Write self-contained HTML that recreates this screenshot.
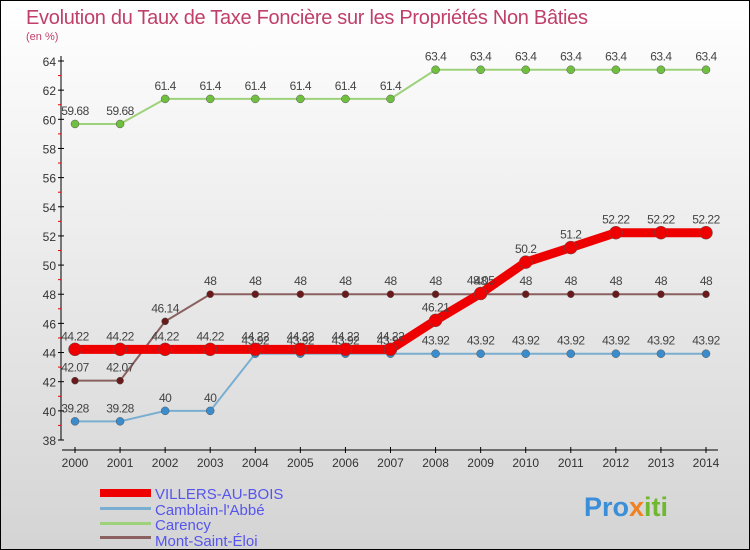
<!DOCTYPE html>
<html><head><meta charset="utf-8"><style>
body{margin:0}
svg{display:block;font-family:"Liberation Sans",sans-serif}
</style></head><body>
<svg id="c" width="750" height="550" viewBox="0 0 750 550" xmlns="http://www.w3.org/2000/svg">
<defs><linearGradient id="bg" x1="0" y1="0" x2="0" y2="1"><stop offset="0" stop-color="#ffffff"/><stop offset="1" stop-color="#d4d4d4"/></linearGradient></defs>
<rect x="0.5" y="0.5" width="749" height="549" fill="url(#bg)" stroke="#000"/>
<text x="26" y="24" font-size="20" fill="#c0406a" textLength="562">Evolution du Taux de Taxe Foncière sur les Propriétés Non Bâties</text>
<text x="26" y="40" font-size="11" fill="#c0406a">(en %)</text>
<g id="axes"></g><g id="series"></g>
<g>
<rect x="100" y="489" width="51" height="8" fill="#e00"/>
<text x="155" y="499" font-size="15" fill="#5555ee">VILLERS-AU-BOIS</text>
<rect x="100" y="507" width="51" height="3" fill="#7aaed0"/>
<text x="155" y="515" font-size="15" fill="#5555ee">Camblain-l'Abbé</text>
<rect x="100" y="522" width="51" height="3" fill="#9ed27a"/>
<text x="155" y="530" font-size="15" fill="#5555ee">Carency</text>
<rect x="100" y="536" width="51" height="3" fill="#8b6060"/>
<text x="155" y="546" font-size="15" fill="#5555ee">Mont-Saint-Éloi</text>
</g>
<g font-size="27" font-weight="bold">
<text x="584" y="516" fill="#3a8fd8">Pro<tspan fill="#f08020">x</tspan><tspan fill="#70b830">iti</tspan></text>
</g>
</svg>
<script>
const years=[2000,2001,2002,2003,2004,2005,2006,2007,2008,2009,2010,2011,2012,2013,2014];
const yTicks=[38,40,42,44,46,48,50,52,54,56,58,60,62,64];
const villers=[44.22,44.22,44.22,44.22,44.22,44.22,44.22,44.22,46.21,48.05,50.2,51.2,52.22,52.22,52.22];
const camblain=[39.28,39.28,40,40,43.92,43.92,43.92,43.92,43.92,43.92,43.92,43.92,43.92,43.92,43.92];
const carency=[59.68,59.68,61.4,61.4,61.4,61.4,61.4,61.4,63.4,63.4,63.4,63.4,63.4,63.4,63.4];
const mont=[42.07,42.07,46.14,48,48,48,48,48,48,48,48,48,48,48,48];
const NS="http://www.w3.org/2000/svg";
const X=i=>75+i*(706-75)/14;
const Y=v=>61+(64-v)*(440-61)/26;
function mk(t,a,p){const e=document.createElementNS(NS,t);for(const k in a)e.setAttribute(k,a[k]);p.appendChild(e);return e;}
const ax=document.getElementById('axes');
const yl=mk('line',{x1:61,y1:56,x2:61,y2:440,stroke:'#000'},ax);


yTicks.forEach(v=>{
 mk('line',{x1:58,y1:Y(v),x2:64,y2:Y(v),stroke:'#000'},ax);
 if(v<64) mk('line',{x1:58,y1:Y(v+1),x2:61,y2:Y(v+1),stroke:'#e00'},ax);
 const t=mk('text',{x:56,y:Y(v)+5,'text-anchor':'end','font-size':12,fill:'#333'},ax);t.textContent=v;
 
 
});
const xl=mk('line',{x1:62,y1:450,x2:718,y2:450,stroke:'#000'},ax);


years.forEach((y,i)=>{
 mk('line',{x1:X(i),y1:447,x2:X(i),y2:453,stroke:'#000'},ax);
 const t=mk('text',{x:X(i),y:467,'text-anchor':'middle','font-size':12,fill:'#333'},ax);t.textContent=y;
 
 
});
const sg=document.getElementById('series');
function series(d,name,color,w,r,dot){
 const g=mk('g',{},sg);
 
 
 mk('polyline',{points:d.map((v,i)=>X(i)+','+Y(v)).join(' '),fill:'none',stroke:color,'stroke-width':w},g);
 d.forEach((v,i)=>{
  const c=mk('circle',{cx:X(i),cy:Y(v),r:r,fill:dot,stroke:'#555','stroke-width':0.5},g);
  
  
  const t=mk('text',{x:X(i),y:Y(v)-9,'text-anchor':'middle','font-size':12,fill:'#444','letter-spacing':'-0.5'},g);t.textContent=v;
  
  
 });
}
series(carency,'carency-line','#9ed27a',2,4,'#70c040');
series(mont,'mont-saint-eloi-line','#8b6060',2,3.5,'#6a1a1a');
series(camblain,'camblain-line','#7aaed0',2,4,'#3a8ccc');
series(villers,'villers-line','#e00',9,6.5,'#e00');
</script>
</body></html>
